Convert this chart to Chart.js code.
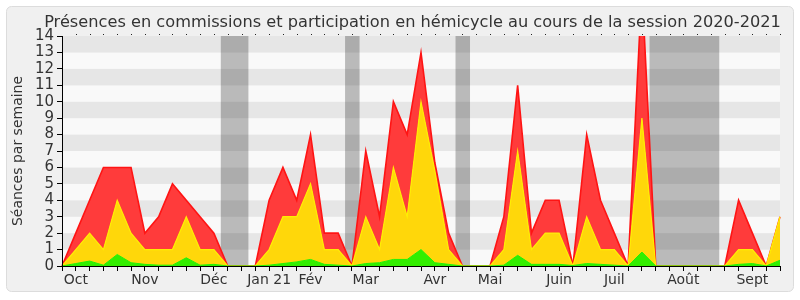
<!DOCTYPE html>
<html lang="fr">
<head>
<meta charset="utf-8">
<script src="https://cdn.jsdelivr.net/npm/chart.js@4.4.1/dist/chart.umd.min.js"></script>
<style>
body { margin: 0; background: #fff; }
canvas { display: block; }
</style>
</head>
<body>
<canvas id="graphique" width="800" height="300"></canvas>
<script>
// Niveaux lus par semaine (cumulés : vert, puis jaune, puis rouge au sommet)
const vert = [0, 0.15, 0.3, 0.05, 0.7, 0.2, 0.1, 0.05, 0.05, 0.5, 0.05, 0.1, 0, 0, 0,
    0.05, 0.15, 0.25, 0.4, 0.1, 0.05, 0, 0.15, 0.2, 0.4, 0.4, 1, 0.2, 0.1, 0,
    0, 0, 0.05, 0.65, 0.1, 0.1, 0.1, 0.03, 0.15, 0.1, 0.05, 0, 0.85,
    0, 0, 0, 0, 0, 0, 0.1, 0.15, 0, 0.35];
const jaune = [0, 1, 2, 1, 4, 2, 1, 1, 1, 3, 1, 1, 0, 0, 0,
    1, 3, 3, 5, 1, 1, 0, 3, 1, 6, 3, 10, 5.8, 1, 0,
    0, 0, 1, 7, 1, 2, 2, 0, 3, 1, 1, 0, 9,
    0, 0, 0, 0, 0, 0, 1, 1, 0, 3];
const rouge = [0, 2, 4, 6, 6, 6, 2, 3, 5, 4, 3, 2, 0, 0, 0,
    4, 6, 4, 8, 2, 2, 0, 7, 3, 10, 8, 13, 6.3, 2, 0,
    0, 0, 3, 11, 2, 4, 4, 0, 8, 4, 2, 0, 17,
    0, 0, 0, 0, 0, 0, 4, 2, 0, 3];

// Étiquettes des mois et semaine où elles tombent
const moisNoms = ['Oct', 'Nov', 'Déc', 'Jan 21', 'Fév', 'Mar', 'Avr', 'Mai', 'Juin', 'Juil', 'Août', 'Sept'];
const moisSemaines = [1, 6, 11, 15, 18, 22, 27, 31, 36, 40, 45, 50];

// Vacances parlementaires (en semaines)
const vacances = [[11.5, 13.5], [20.5, 21.55], [28.5, 29.55], [42.55, 47.6]];

const titre = 'Présences en commissions et participation en hémicycle au cours de la session 2020-2021';

const etiquettes = rouge.map((v, i) => {
    const k = moisSemaines.indexOf(i);
    return k >= 0 ? moisNoms[k] : '';
});

// Cadre, bandes grises, vacances et titre
const fond = {
    id: 'fond',
    beforeDraw(chart) {
        const ctx = chart.ctx;
        const zone = chart.chartArea;
        const x = chart.scales.x;
        const y = chart.scales.y;
        ctx.save();
        ctx.fillStyle = '#fff';
        ctx.fillRect(0, 0, chart.width, chart.height);
        ctx.beginPath();
        ctx.roundRect(6.5, 6.5, 787, 285, 5);
        ctx.fillStyle = '#f0f0f0';
        ctx.fill();
        ctx.strokeStyle = '#dcdcdc';
        ctx.lineWidth = 1;
        ctx.stroke();

        for (let v = 0; v < 14; v++) {
            const haut = y.getPixelForValue(v + 1);
            const bas = y.getPixelForValue(v);
            ctx.fillStyle = v % 2 === 1 ? '#e6e6e6' : '#f9f9f9';
            ctx.fillRect(zone.left, haut, zone.right - zone.left, bas - haut);
        }

        ctx.fillStyle = 'rgba(0,0,0,0.25)';
        vacances.forEach(([a, b]) => {
            const xa = x.getPixelForValue(a);
            const xb = x.getPixelForValue(b);
            ctx.fillRect(xa, zone.top, xb - xa, zone.bottom - zone.top);
        });

        ctx.fillStyle = '#333';
        ctx.font = '16.2px "DejaVu Sans"';
        ctx.textAlign = 'center';
        ctx.textBaseline = 'alphabetic';
        ctx.fillText(titre, 412.5, 27);
        ctx.restore();
    },
    afterDraw(chart) {
        // petits points au-dessus du graphique
        const ctx = chart.ctx;
        const x = chart.scales.x;
        ctx.save();
        ctx.fillStyle = '#222';
        for (let i = 1; i < rouge.length; i++) {
            ctx.fillRect(Math.round(x.getPixelForValue(i)), chart.chartArea.top - 2, 1, 1);
        }
        ctx.restore();
    }
};

const ctx = document.getElementById('graphique').getContext('2d');

const chart = new Chart(ctx, {
    type: 'line',
    data: {
        labels: etiquettes,
        datasets: [
            {
                label: 'Commission',
                data: vert,
                borderColor: '#22f000',
                backgroundColor: '#33ee00',
                borderWidth: 1,
                fill: 'origin'
            },
            {
                label: 'Hémicycle',
                data: jaune,
                borderColor: '#ffee00',
                backgroundColor: '#ffd70a',
                borderWidth: 1.2,
                fill: '-1'
            },
            {
                label: 'Total',
                data: rouge,
                borderColor: '#ff1414',
                backgroundColor: '#ff3b3b',
                borderWidth: 1.6,
                fill: '-1'
            }
        ]
    },
    options: {
        responsive: false,
        animation: false,
        elements: {
            point: { radius: 0 },
            line: { tension: 0 }
        },
        layout: {
            padding: { left: 6, right: 20, top: 36, bottom: 8 }
        },
        scales: {
            x: {
                offset: false,
                afterFit: s => { s.height = 26; },
                border: { display: true, color: '#000', z: 1 },
                grid: {
                    drawOnChartArea: false,
                    drawTicks: true,
                    tickLength: 5,
                    color: '#000',
                    z: 1
                },
                ticks: {
                    autoSkip: false,
                    maxRotation: 0,
                    padding: 1,
                    color: '#333',
                    font: { family: 'DejaVu Sans', size: 14 }
                }
            },
            y: {
                min: 0,
                max: 14,
                afterFit: s => { s.width = 56; },
                border: { display: true, color: '#000', z: 1 },
                grid: {
                    drawOnChartArea: false,
                    drawTicks: true,
                    tickLength: 5,
                    color: '#000',
                    z: 1
                },
                ticks: {
                    stepSize: 1,
                    autoSkip: false,
                    padding: 3,
                    color: '#333',
                    font: { family: 'DejaVu Sans', size: 15 }
                },
                title: {
                    display: true,
                    text: 'Séances par semaine',
                    color: '#333',
                    padding: { top: 4, bottom: 4 },
                    font: { family: 'DejaVu Sans', size: 14 }
                }
            }
        },
        plugins: {
            legend: { display: false },
            tooltip: { enabled: false }
        }
    },
    plugins: [fond]
});
</script>
</body>
</html>
